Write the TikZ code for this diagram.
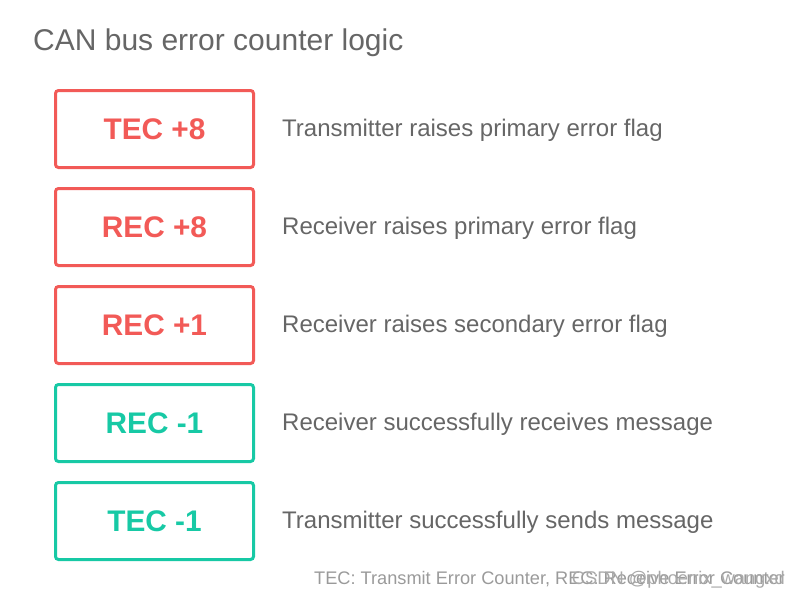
\documentclass[tikz,border=0pt]{standalone}
\usepackage{fontspec}
\setmainfont{Liberation Sans}
\definecolor{cred}{HTML}{F25A57}
\definecolor{cteal}{HTML}{17C9A5}
\definecolor{ctext}{HTML}{666666}
\definecolor{cnote}{HTML}{9A9A9A}
\begin{document}
\begin{tikzpicture}[x=1pt,y=-1pt,
  box/.style={draw, line width=3pt, rounded corners=3pt, minimum width=198pt, minimum height=77pt, inner sep=0pt,
    font=\fontsize{29.8}{32}\selectfont\bfseries},
  redbox/.style={box, draw=cred, text=cred},
  tealbox/.style={box, draw=cteal, text=cteal},
  desc/.style={anchor=west, text=ctext, inner sep=0pt, font=\fontsize{24}{28}\selectfont}]
\useasboundingbox (0,0) rectangle (800,600);
\node[anchor=west, text=ctext, inner sep=0pt, font=\fontsize{30}{34}\selectfont] (title) at (33,43) {CAN bus error counter logic};
\node[redbox] (b1) at (154.5,129) {TEC +8};
\node[redbox] (b2) at (154.5,227) {REC +8};
\node[redbox] (b3) at (154.5,325) {REC +1};
\node[tealbox] (b4) at (154.5,423) {REC -1};
\node[tealbox] (b5) at (154.5,521) {TEC -1};
\node[desc] (d1) at (282,130.5) {Transmitter raises primary error flag};
\node[desc] (d2) at (282,228.5) {Receiver raises primary error flag};
\node[desc] (d3) at (282,326.5) {Receiver raises secondary error flag};
\node[desc] (d4) at (282,424.5) {Receiver successfully receives message};
\node[desc] (d5) at (282,522.5) {Transmitter successfully sends message};
\node[anchor=east, text=cnote, inner sep=0pt, font=\fontsize{18.2}{21}\selectfont] (note) at (785,579) {TEC: Transmit Error Counter, REC: Receive Error Counter};
\node[anchor=east, text=cnote!85, inner sep=0pt, font=\fontsize{18.3}{21}\selectfont] (wm) at (785,580) {CSDN @phoenix\_wangxd};
\end{tikzpicture}
\end{document}
